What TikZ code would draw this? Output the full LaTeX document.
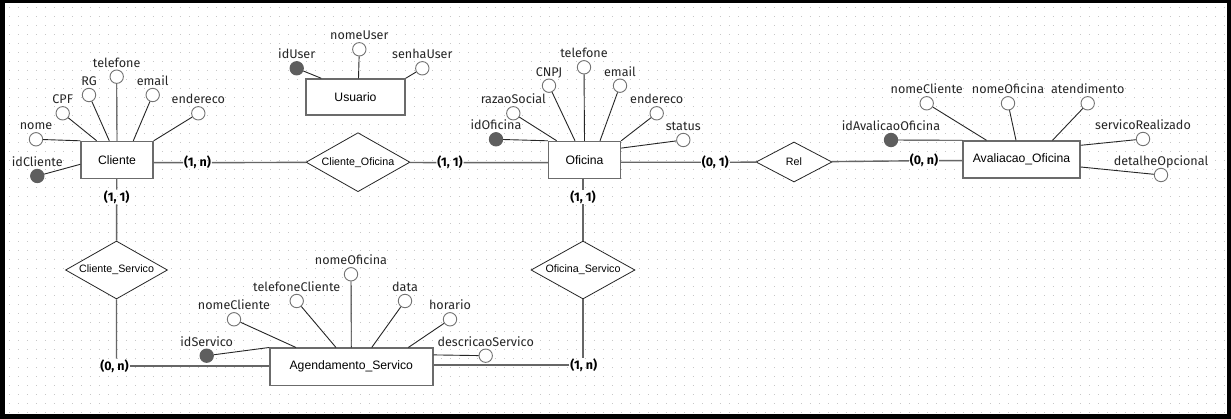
\documentclass[tikz,border=0pt]{standalone}
\usepackage{fontspec}
\setmainfont{Liberation Sans}
\newfontfamily\firafont{Fira Sans}
\usepackage{tikz}
\usetikzlibrary{shapes.geometric,calc}

\begin{document}
\begin{tikzpicture}[x=1pt,y=-1pt,
 ent/.style={draw=black!58,line width=1.4pt,fill=white,inner sep=0pt,font=\fontsize{12.2}{14}\selectfont},
 rel/.style={diamond,shape aspect=1.76,draw=black!85,line width=.8pt,fill=white,inner sep=0pt,font=\fontsize{10.7}{12}\selectfont},
 att/.style={circle,draw=black!55,line width=.9pt,fill=white,minimum size=13.4pt,inner sep=0pt},
 key/.style={att,fill=black!63,draw=black!63},
 lbl/.style={anchor=base,inner sep=0pt,text=black!85,font=\firafont\fontsize{12.6}{14}\selectfont},
 card/.style={inner sep=.8pt,font=\firafont\bfseries\fontsize{12.5}{14}\selectfont},
 conn/.style={draw=black!60,line width=1.4pt},
 attl/.style={draw=black!85,line width=.9pt},
 dots/.style={draw=black!22,line width=1.1pt,dash pattern=on 1.1pt off 7.9pt}]
\useasboundingbox (0,0) rectangle (1231,419);
\fill[black] (0,0) rectangle (1231,419);
\fill[white] (5,3) rectangle (1227,414);
\foreach \gy in {7.3,16.3,...,412.3}
 \draw[dots] (8.75,\gy) -- (1226,\gy);

\node[ent,minimum width=72pt,minimum height=37pt] (cli) at (117,160) {Cliente};
\node[ent,minimum width=99pt,minimum height=36pt] (usu) at (355.5,97) {Usuario};
\node[ent,minimum width=72pt,minimum height=37pt] (ofi) at (584.5,160) {Oficina};
\node[ent,minimum width=117pt,minimum height=37pt] (ava) at (1021.5,159.5) {Avaliacao\_Oficina};
\node[ent,minimum width=163pt,minimum height=37pt] (age) at (351.3,366.7) {Agendamento\_Servico};

\node[rel,minimum width=104pt,minimum height=59pt] (co) at (358,162.2) {Cliente\_Oficina};
\node[rel,minimum width=76pt,minimum height=40pt] (rl) at (794,162) {Rel};
\node[rel,minimum width=102pt,minimum height=58pt] (cs) at (116.5,270) {Cliente\_Servico};
\node[rel,minimum width=104pt,minimum height=58pt] (os) at (583,270) {Oficina\_Servico};

\node[card] (k1) at (197.5,162.7) {(1, n)};
\node[card] (k2) at (450,162.7) {(1, 1)};
\node[card] (k3) at (715.3,162.3) {(0, 1)};
\node[card] (k4) at (924,160.7) {(0, n)};
\node[card] (k5) at (116.7,197) {(1, 1)};
\node[card] (k6) at (114.5,366) {(0, n)};
\node[card] (k7) at (583,197) {(1, 1)};
\node[card] (k8) at (583.7,365) {(1, n)};

\draw[conn] (cli.east |- k1) -- (k1) (k1) -- (co) (co) -- (k2) (k2) -- (ofi.west |- k2);
\draw[conn] (ofi.east |- k3) -- (k3) (k3) -- (rl) (rl) -- (k4) (k4) -- (ava.west |- k4);
\draw[conn] (cli.south -| k5) -- (k5) (k5) -- (cs) (cs.south) -- (cs.south |- k6.north);
\draw[conn] (k6) -- (age.west |- k6);
\draw[conn] (ofi.south -| k7) -- (k7) (k7) -- (os) (os.south) -- (os.south |- k8.north);
\draw[conn] (k8) -- (age.east |- k8);

\foreach \s/\n/\x/\y/\t/\a/\dx/\dy in {
 key/cId/37.3/176/idCliente/cli.west/0/-4.3,
 att/cNome/36/139.3/nome/cli.north west/0/0,
 att/cCpf/62.7/113.3/CPF/cli.north/-20.3/0,
 att/cRg/89/95/RG/cli.north/-7.7/0,
 att/cTel/116.7/76.7/telefone/cli.north/0/0,
 att/cEmail/152.7/95/email/cli.north/16.3/0,
 att/cEnd/198.3/113.3/endereco/cli.north east/0/0,
 key/uId/296.7/68.3/idUser/usu.north west/16/0,
 att/uNome/359.3/49.3/nomeUser/usu.north/3/0,
 att/uSenha/422.3/68.3/senhaUser/usu.north east/0/0,
 key/oId/496/139.3/idOficina/ofi.north west/0/0,
 att/oRazao/513.3/113.3/razaoSocial/ofi.north/-27.8/0,
 att/oCnpj/549/85.7/CNPJ/ofi.north/-9.5/0,
 att/oTel/584/67.3/telefone/ofi.north/0/0,
 att/oEmail/620/85.7/email/ofi.north/15.5/0,
 att/oEnd/656.7/113.3/endereco/ofi.north east/0/0,
 att/oStatus/683.3/140/status/ofi.north east/0/-7.3,
 key/aId/891/140/idAvalicaoOficina/ava.north west/0/0,
 att/aNomeC/926.7/103.3/nomeCliente/ava.north/-35/0,
 att/aNomeO/1008/103.3/nomeOficina/ava.north/-5.5/0,
 att/aAtend/1087.7/103.3/atendimento/ava.north/31/0,
 att/aServ/1143/139/servicoRealizado/ava.north east/0/-5,
 att/aDet/1161/175/detalheOpcional/ava.north east/0/-26.7,
 key/sId/206.7/355.7/idServico/age.north west/0/0,
 att/sNomeC/234/319.3/nomeCliente/age.north/-55.3/0,
 att/sTelC/296.7/301/telefoneCliente/age.north/-15.3/0,
 att/sNomeO/351/274.3/nomeOficina/age.north/0/0,
 att/sData/405/301/data/age.north/20.4/0,
 att/sHor/450/319.3/horario/age.north/57/0,
 att/sDesc/485.7/355.7/descricaoServico/age.north east/0/-7.4}
 {\node[\s] (\n) at (\x,\y) {};
  \node[lbl] (\n-lbl) at (\x,\y-9.5) {\t};
  \draw[attl] (\n) -- ([xshift=\dx pt,yshift=\dy pt]\a);}
\end{tikzpicture}
\end{document}
